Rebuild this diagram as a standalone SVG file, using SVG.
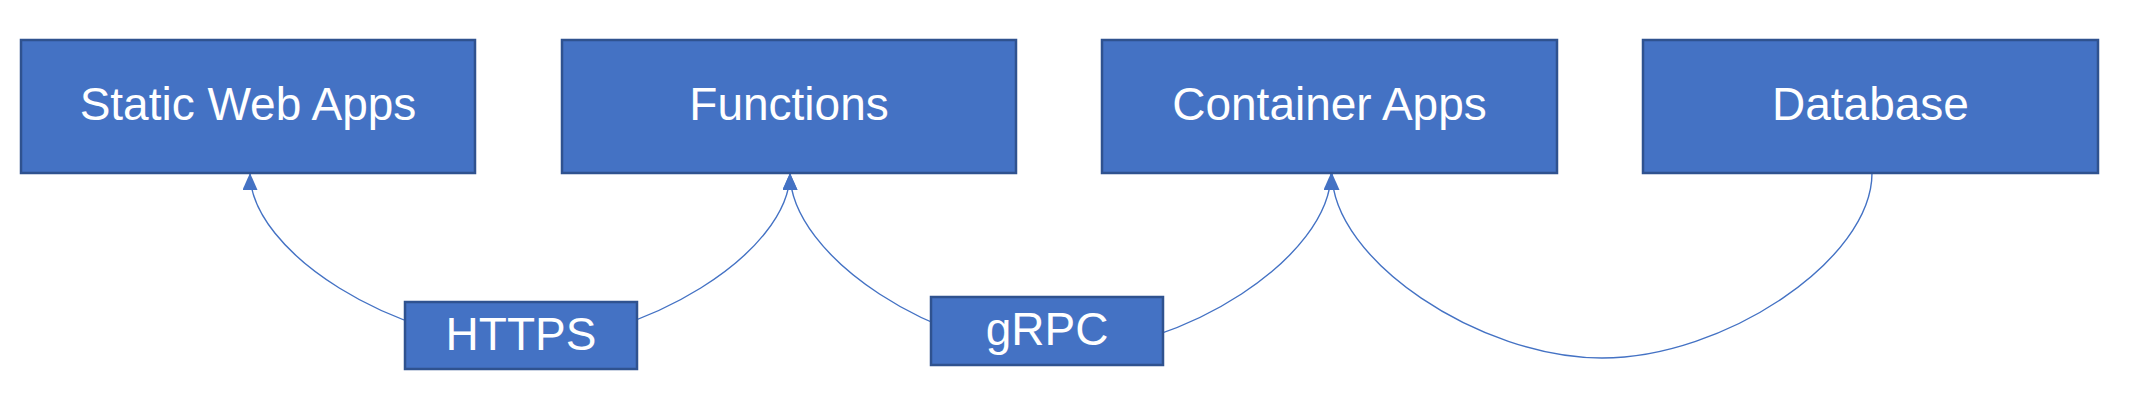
<svg xmlns="http://www.w3.org/2000/svg" width="2131" height="418" viewBox="0 0 2131 418">
<style>
.box{fill:#4472C4;stroke:#2F528F;stroke-width:2.5}
.lbl{fill:#FFFFFF;font-family:"Liberation Sans","Noto Sans",Arial,sans-serif;font-size:46px;text-anchor:middle}
.conn{fill:none;stroke:#4472C4;stroke-width:1.4}
</style>
<defs>
<marker id="arr" markerUnits="userSpaceOnUse" markerWidth="17" markerHeight="15" refX="17" refY="7.5" orient="auto-start-reverse" viewBox="0 0 17 15">
<path d="M0,0 L17,7.5 L0,15 z" fill="#4472C4"/>
</marker>
</defs>
<rect width="2131" height="418" fill="#FFFFFF"/>
<g id="connectors">
<path class="conn" d="M250,173 C250,253 398,343 520,343 C642,343 790,253 790,173" marker-start="url(#arr)" marker-end="url(#arr)"/>
<path class="conn" d="M790,173 C790,257 938.5,352 1060.5,352 C1182.5,352 1331,257 1331,173" marker-start="url(#arr)" marker-end="url(#arr)"/>
<path class="conn" d="M1872,173 C1872,260 1724,358 1602,358 C1480,358 1332,260 1332,173" marker-end="url(#arr)"/>
</g>
<g id="static-web-apps">
<rect class="box" x="21" y="40" width="454" height="133"/>
<text class="lbl" x="248" y="120">Static Web Apps</text>
</g>
<g id="functions">
<rect class="box" x="562" y="40" width="454" height="133"/>
<text class="lbl" x="789" y="120">Functions</text>
</g>
<g id="container-apps">
<rect class="box" x="1102" y="40" width="455" height="133"/>
<text class="lbl" x="1329.5" y="120">Container Apps</text>
</g>
<g id="database">
<rect class="box" x="1643" y="40" width="455" height="133"/>
<text class="lbl" x="1870.5" y="120">Database</text>
</g>
<g id="https">
<rect class="box" x="405" y="302" width="232" height="67"/>
<text class="lbl" x="521" y="350">HTTPS</text>
</g>
<g id="grpc">
<rect class="box" x="931" y="297" width="232" height="68"/>
<text class="lbl" x="1047" y="345">gRPC</text>
</g>
</svg>
